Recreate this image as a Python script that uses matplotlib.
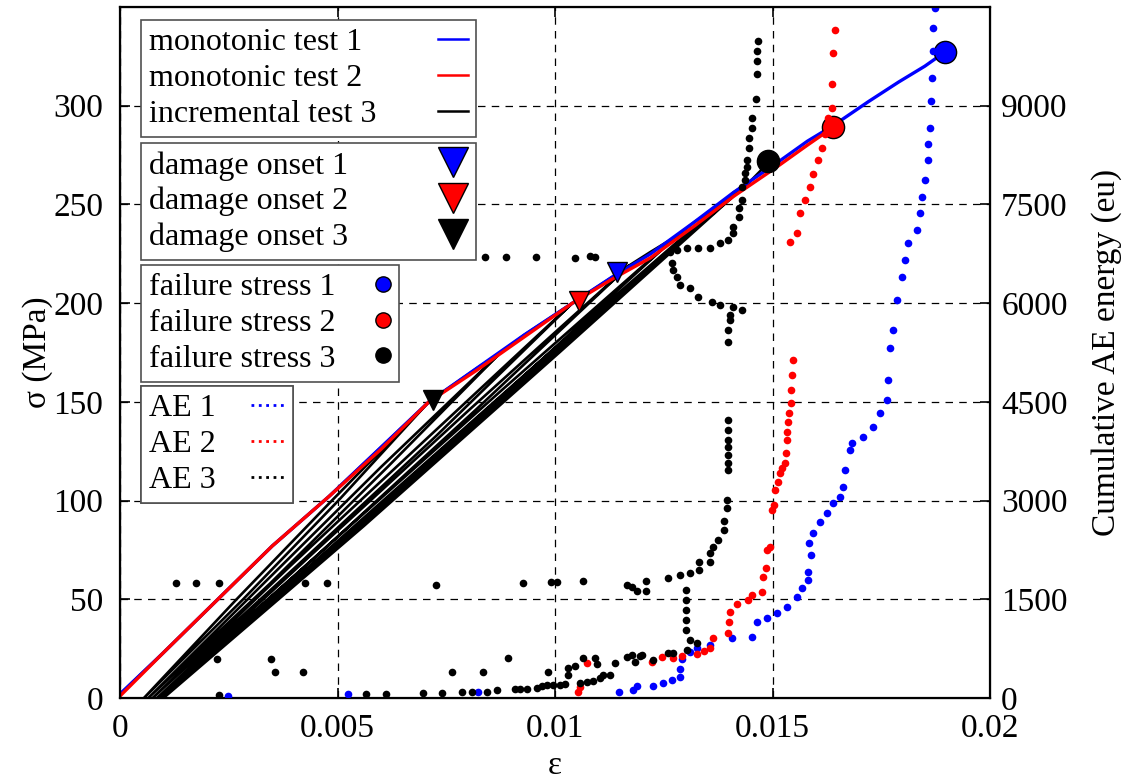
import matplotlib.pyplot as plt
from matplotlib.lines import Line2D

# stress-strain curves (strain, MPa)
mono1_strain = [0, 0.0010, 0.00225, 0.0035, 0.0048, 0.0060, 0.0071, 0.0082, 0.0093, 0.0104, 0.0113,
                0.0122, 0.0132, 0.0141, 0.0151, 0.0158, 0.0164, 0.0172, 0.0179, 0.0185, 0.01895]
mono1_stress = [2, 23, 50, 77, 102, 127, 150, 167, 184, 200, 213,
                225, 241, 256, 271, 282, 290, 302, 312, 320, 327]

mono2_strain = [0, 0.0010, 0.00225, 0.0035, 0.0048, 0.0060, 0.0071, 0.0082, 0.0093, 0.0104, 0.0113,
                0.0122, 0.0132, 0.0141, 0.0151, 0.0158, 0.01639]
mono2_stress = [1, 23, 50, 77, 102, 126, 150, 166, 183, 200, 212,
                223, 239, 254, 269, 280, 289]

# incremental test: loading envelope with unload/reload loops
inc3_strain = [0, 0.0010, 0.00225, 0.0035, 0.0048, 0.0060, 0.0071,
               0.00502, 0.00283, 0.00055, 0.00268, 0.00487, 0.0071,
               0.0082, 0.00875,
               0.00615, 0.00345, 0.00065, 0.00330, 0.00600, 0.00875,
               0.0093, 0.0104,
               0.00728, 0.00407, 0.00075, 0.00392, 0.00713, 0.0104,
               0.0113, 0.0117,
               0.00818, 0.00457, 0.00085, 0.00442, 0.00803, 0.0117,
               0.0122, 0.0128,
               0.00893, 0.00497, 0.00090, 0.00482, 0.00878, 0.0128,
               0.0132, 0.0138,
               0.00962, 0.00533, 0.00095, 0.00518, 0.00947, 0.0138,
               0.0141, 0.0145,
               0.01010, 0.00560, 0.00100, 0.00545, 0.00995, 0.0145,
               0.0149]
inc3_stress = [2, 23, 50, 77, 102, 127, 150,
               100, 50, 0, 50, 100, 150,
               167, 175,
               117, 58, 0, 58, 117, 175,
               184, 200,
               133, 67, 0, 67, 133, 200,
               213, 219,
               146, 73, 0, 73, 146, 219,
               226, 234,
               156, 78, 0, 78, 156, 234,
               241, 250,
               167, 83, 0, 83, 167, 250,
               256, 262,
               175, 87, 0, 87, 175, 262,
               271]

# damage onset and failure points
onset_strain = [0.01142, 0.01055, 0.0072]
onset_stress = [216, 201, 151]
fail_strain = [0.01897, 0.01639, 0.0149]
fail_stress = [327, 289, 272]

# cumulative AE energy (eu)
ae1_strain = [0.00248, 0.00524, 0.00823, 0.01147, 0.01179, 0.01189, 0.01225, 0.01248, 0.01269, 0.01287,
              0.01287, 0.01292, 0.01310, 0.01326, 0.01356, 0.01407, 0.01453, 0.01464, 0.01487, 0.01510,
              0.01533, 0.01556, 0.01568, 0.01582, 0.01582, 0.01589, 0.01584, 0.01593, 0.01609, 0.01625,
              0.01639, 0.01655, 0.01662, 0.01667, 0.01678, 0.01683, 0.01708, 0.01731, 0.01747, 0.01763,
              0.01766, 0.01770, 0.01777, 0.01786, 0.01798, 0.01805, 0.01811, 0.01832, 0.01839, 0.01844,
              0.01851, 0.01857, 0.01857, 0.01862, 0.01864, 0.01867, 0.01869, 0.01869, 0.01874, 0.01876]
ae1_energy = [30, 61, 91, 91, 121, 182, 182, 228, 273, 319,
              440, 592, 698, 759, 805, 911, 926, 1154, 1214, 1290,
              1381, 1533, 1670, 1791, 1913, 2171, 2353, 2505, 2672, 2808,
              2960, 3051, 3203, 3461, 3765, 3871, 3962, 4114, 4326, 4524,
              4827, 5313, 5586, 6042, 6391, 6649, 6907, 7104, 7362, 7605,
              7863, 8167, 8425, 8668, 9078, 9427, 9837, 10186, 10489, 10700]

ae2_strain = [0.01053, 0.01057, 0.01074, 0.01223, 0.01246, 0.01272, 0.01292, 0.01326, 0.01343, 0.01356,
              0.01363, 0.01398, 0.01400, 0.01402, 0.01418, 0.01444, 0.01453, 0.01476, 0.01478, 0.01485,
              0.01487, 0.01494, 0.01499, 0.01503, 0.01506, 0.01513, 0.01517, 0.01522, 0.01529, 0.01531,
              0.01533, 0.01533, 0.01536, 0.01538, 0.01542, 0.01542, 0.01545, 0.01547, 0.01540, 0.01556,
              0.01563, 0.01575, 0.01586, 0.01593, 0.01605, 0.01614, 0.01621, 0.01628, 0.01637, 0.01637,
              0.01639, 0.01644]
ae2_energy = [91, 167, 531, 546, 622, 607, 638, 668, 713, 759,
              911, 987, 1154, 1305, 1427, 1488, 1563, 1609, 1837, 1973,
              2247, 2292, 2854, 2930, 3157, 3279, 3416, 3491, 3567, 3719,
              3916, 4038, 4190, 4326, 4478, 4675, 4903, 5131, 6922, 7059,
              7362, 7560, 7757, 7969, 8167, 8364, 8577, 8820, 8971, 9336,
              9806, 10155]

ae3_strain = [0.00129, 0.00175, 0.00228, 0.00425, 0.00476, 0.00726, 0.00926, 0.00991, 0.01005, 0.01064,
              0.01166, 0.01177, 0.01189, 0.01209, 0.01209,
              0.00839, 0.00887, 0.00956, 0.01046, 0.01081, 0.01092,
              0.00189, 0.00223, 0.00347, 0.00356, 0.00421, 0.00228, 0.00566, 0.00611, 0.00697, 0.00740,
              0.00763, 0.00786, 0.00809, 0.00835, 0.00844, 0.00867, 0.00892, 0.00908, 0.00920, 0.00936,
              0.00959, 0.00970, 0.00982, 0.00984, 0.00995, 0.01012, 0.01023, 0.01030, 0.01030, 0.01046,
              0.01058, 0.01064, 0.01074, 0.01087, 0.01092, 0.01097, 0.01103, 0.01110, 0.01126, 0.01138,
              0.01166, 0.01177, 0.01184, 0.01200, 0.01195, 0.01225, 0.01260, 0.01271, 0.01303, 0.01326,
              0.01310,
              0.01301, 0.01301, 0.01301, 0.01301, 0.01301,
              0.01260, 0.01287, 0.01310, 0.01331, 0.01331, 0.01356, 0.01356, 0.01363, 0.01375, 0.01389,
              0.01389, 0.01395, 0.01395, 0.01398, 0.01398, 0.01398, 0.01398, 0.01398, 0.01398, 0.01398,
              0.01398, 0.01398, 0.01402, 0.01402, 0.01430, 0.01409, 0.01379, 0.01361, 0.01329, 0.01310,
              0.01287, 0.01281, 0.01271, 0.01269, 0.01264, 0.01281, 0.01303, 0.01329, 0.01356, 0.01379,
              0.01398, 0.01409, 0.01409, 0.01423, 0.01423, 0.01430, 0.01430, 0.01437, 0.01437, 0.01441,
              0.01441, 0.01446, 0.01446, 0.01453, 0.01453, 0.01462, 0.01464, 0.01464, 0.01464, 0.01467]
ae3_energy = [1746, 1746, 1746, 1746, 1746, 1715, 1746, 1760, 1760, 1776,
              1715, 1685, 1624, 1776, 1624,
              6694, 6694, 6694, 6680, 6720, 6694,
              592, 592, 592, 395, 395, 46, 61, 61, 76, 76,
              395, 91, 91, 395, 91, 121, 607, 137, 137, 137,
              152, 182, 197, 395, 197, 197, 213, 349, 455, 486,
              228, 607, 243, 258, 607, 516, 304, 349, 349, 531,
              622, 653, 546, 653, 638, 577, 683, 683, 729, 835,
              880,
              1032, 1184, 1336, 1488, 1639,
              1822, 1867, 1898, 1943, 2064, 2201, 2064, 2292, 2398, 2550,
              2687, 2884, 3006, 3461, 3567, 3689, 3810, 3916, 4068, 4220,
              5404, 5586, 5738, 5814, 5890, 5935, 5966, 6011, 6087, 6224,
              6269, 6391, 6497, 6603, 6770, 6801, 6831, 6831, 6831, 6907,
              6952, 7059, 7150, 7302, 7450, 7560, 7757, 7863, 7970, 8061,
              8167, 8364, 8516, 8668, 8820, 9108, 9488, 9685, 9837, 9988]

colors = ['blue', 'red', 'black']
x_ticks = [0, 0.005, 0.01, 0.015, 0.02]
x_labels = ['0', '0.005', '0.01', '0.015', '0.02']
y_ticks = [0, 50, 100, 150, 200, 250, 300]
y2_ticks = [0, 1500, 3000, 4500, 6000, 7500, 9000]

plt.rcParams['font.family'] = ['Liberation Serif', 'DejaVu Serif']
fs = 23


def left_align(lg, width_px):
    # text on the left, handle pushed to the right edge of a fixed-width box
    col = lg._legend_handle_box.get_children()[0]
    col.align = 'left'
    col.width = width_px
    for item in col.get_children():
        item.mode = 'expand'


fig = plt.figure(figsize=(11.27, 7.81), dpi=100)
ax = fig.add_axes([0.1065, 0.1063, 0.7720, 0.8848])

ax.plot(inc3_strain, inc3_stress, color='black', lw=1.9)
ax.plot(mono1_strain, mono1_stress, color='blue', lw=2.4)
ax.plot(mono2_strain, mono2_stress, color='red', lw=2.4)
for i in range(3):
    ax.plot(onset_strain[i], onset_stress[i], 'v', color=colors[i], ms=15, mec='black', mew=1, zorder=5)
    ax.plot(fail_strain[i], fail_stress[i], 'o', color=colors[i], ms=16, mec='black', mew=1, zorder=5)

ax.set_xlim(0, 0.02)
ax.set_ylim(0, 350)
ax.set_xticks(x_ticks)
ax.set_xticklabels(x_labels)
ax.set_yticks(y_ticks)
ax.grid(True, color='black', ls=(0, (6, 5)), lw=0.9)
ax.tick_params(direction='in', length=7, width=1.2, labelsize=fs + 1, top=True, pad=11)
ax.tick_params(axis='y', pad=12)
for s in ax.spines.values():
    s.set_linewidth(1.6)
ax.set_xlabel('ε', fontsize=fs + 1, labelpad=5)
ax.set_ylabel('σ (MPa)', fontsize=fs + 1, labelpad=0)

ax2 = ax.twinx()
for i, (xs, ys) in enumerate([(ae1_strain, ae1_energy), (ae2_strain, ae2_energy), (ae3_strain, ae3_energy)]):
    ax2.plot(xs, ys, 'o', color=colors[i], ms=5.5, mew=0)
ax2.set_ylim(0, 10500)
ax2.set_yticks(y2_ticks)
ax2.tick_params(direction='in', length=7, width=1.2, labelsize=fs + 1, pad=8)
ax2.set_ylabel('Cumulative AE energy (eu)', fontsize=fs + 1, labelpad=17)

leg_kw = dict(loc='upper left', fontsize=fs, frameon=True, fancybox=False, markerfirst=False,
              borderpad=0.25, labelspacing=0.2, borderaxespad=0, framealpha=1, handletextpad=0.5)

h1 = [Line2D([], [], color=c, lw=1.8) for c in colors]
l1 = ax2.legend(h1, ['monotonic test 1', 'monotonic test 2', 'incremental test 3'],
                bbox_to_anchor=(0.024, 0.981), handlelength=0.95, **leg_kw)
h2 = [Line2D([], [], ls='none', marker='v', color=c, mec='black', ms=22) for c in colors]
l2 = ax2.legend(h2, ['damage onset 1', 'damage onset 2', 'damage onset 3'],
                bbox_to_anchor=(0.024, 0.803), handlelength=0.95, **leg_kw)
h3 = [Line2D([], [], ls='none', marker='o', color=c, mec='black', ms=11) for c in colors]
l3 = ax2.legend(h3, ['failure stress 1', 'failure stress 2', 'failure stress 3'],
                bbox_to_anchor=(0.024, 0.627), handlelength=0.5, **leg_kw)
h4 = [Line2D([], [], color=c, ls=':', lw=2) for c in colors]
l4 = ax2.legend(h4, ['AE 1', 'AE 2', 'AE 3'],
                bbox_to_anchor=(0.024, 0.4515), handlelength=1.07, **leg_kw)
for lg, w in ((l1, 319), (l2, 319), (l3, 242), (l4, 136)):
    left_align(lg, w)
    lg.get_frame().set_edgecolor('#505050')
    lg.get_frame().set_linewidth(1.2)
    ax2.add_artist(lg)

fig.savefig('out.png', dpi=100)
